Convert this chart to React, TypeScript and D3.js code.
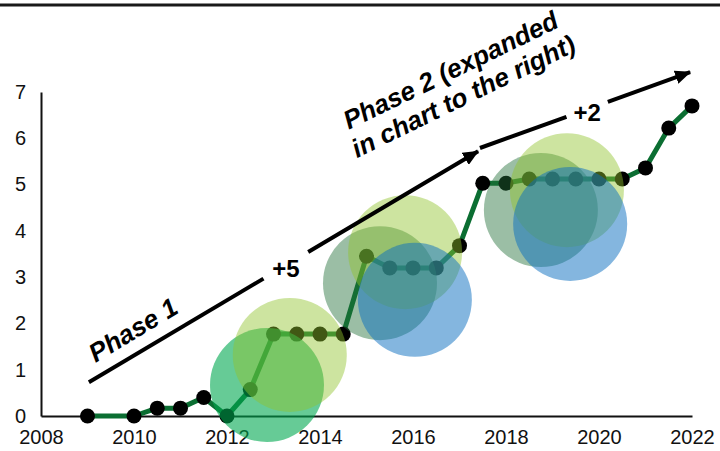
import React, { useRef, useEffect } from 'react';
import * as d3 from 'd3';

// cumulative count, sampled every half year
const years = [
  2009, 2010, 2010.5, 2011, 2011.5, 2012, 2012.5, 2013, 2013.5, 2014, 2014.5,
  2015, 2015.5, 2016, 2016.5, 2017, 2017.5, 2018, 2018.5, 2019, 2019.5, 2020,
  2020.5, 2021, 2021.5, 2022,
];
const values = [
  0, 0, 0.17, 0.17, 0.4, 0, 0.57, 1.77, 1.77, 1.77, 1.77,
  3.45, 3.2, 3.2, 3.2, 3.68, 5.03, 5.03, 5.12, 5.12, 5.12, 5.12,
  5.12, 5.36, 6.22, 6.7,
];

const xTicks = [2008, 2010, 2012, 2014, 2016, 2018, 2020, 2022];
const yTicks = [0, 1, 2, 3, 4, 5, 6, 7];

// translucent bubbles
const bubbleYears = [2012.86, 2013.35, 2015.29, 2015.83, 2016.04, 2018.75, 2019.31, 2019.38];
const bubbleValues = [0.67, 1.32, 2.87, 3.54, 2.51, 4.45, 4.88, 4.15];
const bubbleColors = ['#00a850', '#90c32c', '#216f37', '#90c32c', '#0a6ec0', '#216f37', '#90c32c', '#0a6ec0'];
const bubbleOpacity = [0.6, 0.45, 0.45, 0.45, 0.5, 0.45, 0.45, 0.5];

// phase arrows in data units
const arrowFrom = [[2009.03, 0.73], [2017.44, 5.79]];
const arrowTo = [[2017.4, 5.72], [2021.96, 7.43]];
const arrowLabels = ['+5', '+2'];
const arrowLabelAt = [0.506, 0.51];
const arrowGap = [26, 22];

const App: React.FC = () => {
  const svgRef = useRef<SVGSVGElement>(null);
  const width = 720;
  const height = 451;

  useEffect(() => {
    if (!svgRef.current) return;
    const svg = d3.select(svgRef.current);
    svg.selectAll('*').remove();

    const font = "'Liberation Sans', Arial, sans-serif";

    const x = d3.scaleLinear().domain([2008, 2022]).range([41, 692]);
    const y = d3.scaleLinear().domain([0, 7]).range([416, 92]);

    // top rule
    svg.append('line')
      .attr('x1', 0).attr('x2', width)
      .attr('y1', 5).attr('y2', 5)
      .attr('stroke', '#1a1a1a')
      .attr('stroke-width', 3);

    // axes
    const yAxis = d3.axisLeft(y)
      .tickValues(yTicks)
      .tickFormat(d3.format('d'))
      .tickSize(0)
      .tickPadding(15);
    const yg = svg.append('g').attr('transform', `translate(${x(2008)},0)`).call(yAxis);
    yg.select('.domain').attr('stroke', '#111').attr('stroke-width', 2);
    yg.selectAll('text').style('font-family', font).style('font-size', '20px').style('fill', '#111');

    const xAxis = d3.axisBottom(x)
      .tickValues(xTicks)
      .tickFormat(d3.format('d'))
      .tickSize(0)
      .tickPadding(14);
    const xg = svg.append('g').attr('transform', `translate(0,${y(0)})`).call(xAxis);
    xg.select('.domain').attr('stroke', '#111').attr('stroke-width', 2);
    xg.selectAll('text').style('font-family', font).style('font-size', '20px').style('fill', '#111');

    // series line + dots
    const pts = years.map((yr, i) => [yr, values[i]] as [number, number]);
    const line = d3.line<[number, number]>()
      .x(d => x(d[0]))
      .y(d => y(d[1]));

    svg.append('path')
      .datum(pts)
      .attr('fill', 'none')
      .attr('stroke', '#0b6e32')
      .attr('stroke-width', 5)
      .attr('stroke-linejoin', 'round')
      .attr('d', line);

    svg.selectAll('.dot')
      .data(pts)
      .enter()
      .append('circle')
      .attr('class', 'dot')
      .attr('cx', d => x(d[0]))
      .attr('cy', d => y(d[1]))
      .attr('r', 7.5)
      .attr('fill', '#000');

    // bubbles over the line
    svg.selectAll('.bubble')
      .data(bubbleYears)
      .enter()
      .append('circle')
      .attr('class', 'bubble')
      .attr('cx', d => x(d))
      .attr('cy', (_, i) => y(bubbleValues[i]))
      .attr('r', 57)
      .attr('fill', (_, i) => bubbleColors[i])
      .attr('fill-opacity', (_, i) => bubbleOpacity[i]);

    // arrowhead
    svg.append('defs')
      .append('marker')
      .attr('id', 'head')
      .attr('markerUnits', 'userSpaceOnUse')
      .attr('viewBox', '0 0 16 14')
      .attr('refX', 15)
      .attr('refY', 7)
      .attr('markerWidth', 16)
      .attr('markerHeight', 14)
      .attr('orient', 'auto')
      .append('path')
      .attr('d', 'M0,0 L16,7 L0,14 Z')
      .attr('fill', '#000');

    arrowFrom.forEach((from, i) => {
      const x0 = x(from[0]), y0 = y(from[1]);
      const x1 = x(arrowTo[i][0]), y1 = y(arrowTo[i][1]);
      const len = Math.hypot(x1 - x0, y1 - y0);
      const ux = (x1 - x0) / len, uy = (y1 - y0) / len;
      const t = arrowLabelAt[i];
      const cx = x0 + (x1 - x0) * t, cy = y0 + (y1 - y0) * t;
      const g = arrowGap[i];

      svg.append('line')
        .attr('x1', x0).attr('y1', y0)
        .attr('x2', cx - ux * g).attr('y2', cy - uy * g)
        .attr('stroke', '#000').attr('stroke-width', 4);
      svg.append('line')
        .attr('x1', cx + ux * g).attr('y1', cy + uy * g)
        .attr('x2', x1).attr('y2', y1)
        .attr('stroke', '#000').attr('stroke-width', 4)
        .attr('marker-end', 'url(#head)');

      svg.append('text')
        .attr('x', cx)
        .attr('y', cy + 3)
        .attr('text-anchor', 'middle')
        .attr('dominant-baseline', 'central')
        .style('font-family', font)
        .style('font-size', '24px')
        .style('font-weight', 'bold')
        .style('fill', '#000')
        .text(arrowLabels[i]);
    });

    // phase captions
    svg.append('text')
      .attr('transform', `translate(${x(2009.98)},${y(1.86)}) rotate(-31)`)
      .attr('text-anchor', 'middle')
      .attr('dominant-baseline', 'central')
      .style('font-family', font)
      .style('font-size', '26px')
      .style('font-weight', 'bold')
      .style('font-style', 'italic')
      .style('fill', '#000')
      .text('Phase 1');

    const p2 = svg.append('text')
      .attr('transform', `translate(${x(2016.94)},${y(7.2)}) rotate(-26)`)
      .attr('text-anchor', 'middle')
      .style('font-family', font)
      .style('font-size', '26px')
      .style('font-weight', 'bold')
      .style('font-style', 'italic')
      .style('fill', '#000');
    p2.append('tspan').attr('x', 0).attr('y', -5).text('Phase 2 (expanded');
    p2.append('tspan').attr('x', 0).attr('y', 24).text('in chart to the right)');
  }, []);

  return (
    <svg
      ref={svgRef}
      width={width}
      height={height}
      style={{ position: 'absolute', left: 0, top: 0, background: '#fff' }}
      viewBox={`0 0 ${width} ${height}`}
    />
  );
};

export default App;
